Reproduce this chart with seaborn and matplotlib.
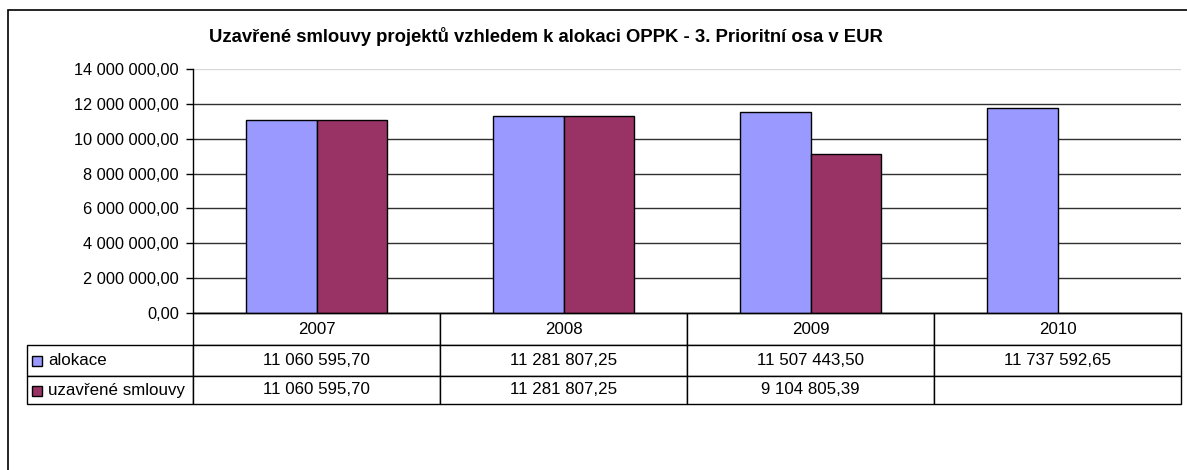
import numpy as np
import pandas as pd
import matplotlib
matplotlib.use('Agg')
import matplotlib.pyplot as plt
import seaborn as sns
from matplotlib.table import Table
from matplotlib.patches import Rectangle
from matplotlib.ticker import FuncFormatter

roky = ['2007', '2008', '2009', '2010']
serie = ['alokace', 'uzavřené smlouvy']
alokace = [11060595.70, 11281807.25, 11507443.50, 11737592.65]
smlouvy = [11060595.70, 11281807.25, 9104805.39, np.nan]
barvy = ['#9999FF', '#993366']
titulek = 'Uzavřené smlouvy projektů vzhledem k alokaci OPPK - 3. Prioritní osa v EUR'

sns.set_style('white')
plt.rcParams['font.family'] = ['Liberation Sans', 'DejaVu Sans']
plt.rcParams['text.color'] = 'black'
plt.rcParams['ytick.labelcolor'] = 'black'

df = pd.DataFrame({
    'rok': roky * 2,
    'serie': [serie[0]] * 4 + [serie[1]] * 4,
    'hodnota': alokace + smlouvy,
})


def cz_fmt(v, pos=None):
    return f'{v:,.2f}'.replace(',', ' ').replace('.', ',')


W, H = 1187, 470
fig = plt.figure(figsize=(W / 100, H / 100), dpi=100)
ax = fig.add_axes([193 / W, 1 - 313 / H, 988 / W, 244 / H])

sns.barplot(data=df, x='rok', y='hodnota', hue='serie', hue_order=serie,
            palette=barvy, saturation=1, width=0.57, errorbar=None,
            edgecolor='black', linewidth=1, ax=ax, legend=False)

ax.set_xlim(-0.5, 3.5)
ax.set_ylim(0, 14e6)
ax.set_yticks(np.arange(0, 14e6 + 1, 2e6))
ax.yaxis.set_major_formatter(FuncFormatter(cz_fmt))
ax.set_xticks([])
ax.set_xlabel('')
ax.set_ylabel('')
ax.tick_params(axis='y', left=True, direction='out', length=5, width=1,
               color='black', labelcolor='black', labelsize=11.8, pad=5)
ax.yaxis.grid(True, color='#303030', lw=1)
ax.get_ygridlines()[-1].set_color('#d9d9d9')
ax.set_axisbelow(True)
for s in ['top', 'right']:
    ax.spines[s].set_visible(False)
for s in ['left', 'bottom']:
    ax.spines[s].set_color('black')
    ax.spines[s].set_linewidth(1)

# datova tabulka pod grafem
tab = Table(ax, bbox=[(27 - 193) / 988, -91 / 244, 1154 / 988, 91 / 244])
sirky = [166] + [247] * 4
vysky = [32, 31, 28]
for j, r in enumerate(roky):
    tab.add_cell(0, j + 1, sirky[j + 1], vysky[0], text=r, loc='center')
for i, (nazev, hodnoty) in enumerate(zip(serie, [alokace, smlouvy])):
    c = tab.add_cell(i + 1, 0, sirky[0], vysky[i + 1], text=nazev, loc='left')
    c.PAD = 0.127
    for j, v in enumerate(hodnoty):
        txt = '' if np.isnan(v) else cz_fmt(v)
        tab.add_cell(i + 1, j + 1, sirky[j + 1], vysky[i + 1], text=txt, loc='center')
tab.auto_set_font_size(False)
tab.set_fontsize(12.2)
for cell in tab.get_celld().values():
    cell.set_edgecolor('black')
    cell.set_linewidth(1)
    cell.get_text().set_color('black')
ax.add_table(tab)

# znacky legendy v tabulce
for yc, col in zip([361, 391], barvy):
    fig.add_artist(Rectangle((32 / W, 1 - (yc + 5) / H), 10 / W, 10 / H,
                             facecolor=col, edgecolor='black', lw=1,
                             transform=fig.transFigure))

fig.text(546 / W, 1 - 37 / H, titulek, ha='center', va='center',
         fontsize=13.3, fontweight='bold', color='black')

# ramecek grafu
fig.add_artist(Rectangle((8 / W, -0.2), 1.5, 1.2 - 10 / H, fill=False,
                         edgecolor='black', lw=1.2, transform=fig.transFigure))

fig.savefig('out.png', dpi=100)
